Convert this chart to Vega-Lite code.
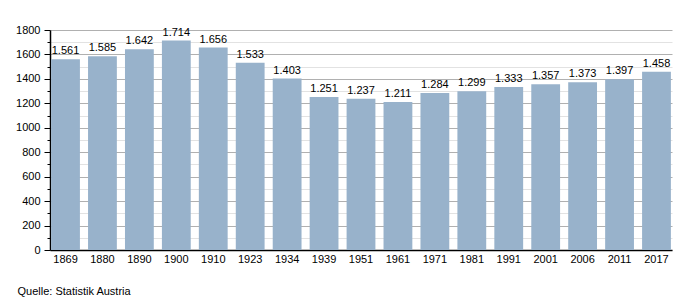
{
  "$schema": "https://vega.github.io/schema/vega-lite/v6.json",
  "autosize": "none",
  "width": 622,
  "height": 220,
  "padding": {"left": 50, "top": 30, "right": 28, "bottom": 50},
  "background": "white",
  "config": {
    "font": "Liberation Sans",
    "view": {"stroke": null},
    "locale": {"number": {"decimal": ",", "thousands": ".", "grouping": [3], "currency": ["", " €"]}}
  },
  "title": {
    "text": "Quelle: Statistik Austria",
    "orient": "bottom",
    "anchor": "start",
    "frame": "bounds",
    "dx": 2,
    "offset": 22,
    "fontSize": 11,
    "fontWeight": "normal",
    "color": "#000"
  },
  "data": {
    "values": [
      {"year": "1869", "value": 1561},
      {"year": "1880", "value": 1585},
      {"year": "1890", "value": 1642},
      {"year": "1900", "value": 1714},
      {"year": "1910", "value": 1656},
      {"year": "1923", "value": 1533},
      {"year": "1934", "value": 1403},
      {"year": "1939", "value": 1251},
      {"year": "1951", "value": 1237},
      {"year": "1961", "value": 1211},
      {"year": "1971", "value": 1284},
      {"year": "1981", "value": 1299},
      {"year": "1991", "value": 1333},
      {"year": "2001", "value": 1357},
      {"year": "2006", "value": 1373},
      {"year": "2011", "value": 1397},
      {"year": "2017", "value": 1458}
    ]
  },
  "encoding": {
    "x": {
      "field": "year",
      "type": "ordinal",
      "sort": null,
      "scale": {"paddingInner": 0.22, "paddingOuter": 0.03},
      "axis": {
        "title": null,
        "labelAngle": 0,
        "labelFontSize": 11,
        "labelColor": "#000",
        "labelPadding": 3,
        "ticks": false,
        "domainColor": "#000",
        "domainWidth": 1.5
      }
    },
    "y": {
      "field": "value",
      "type": "quantitative",
      "scale": {"domain": [0, 1800], "nice": false},
      "axis": {
        "title": null,
        "values": [0,100,200,300,400,500,600,700,800,900,1000,1100,1200,1300,1400,1500,1600,1700,1800],
        "format": "d",
        "labelExpr": "datum.value % 200 === 0 ? datum.label : ''",
        "labelOverlap": false,
        "labelFontSize": 11,
        "labelColor": "#000",
        "labelPadding": 4,
        "domainColor": "#000",
        "domainWidth": 1.5,
        "tickColor": "#000",
        "tickSize": {"condition": {"test": "datum.value % 200 === 0", "value": 6}, "value": 3},
        "gridColor": {"condition": {"test": "datum.value % 200 === 0", "value": "#b0b0b0"}, "value": "#e2e2e2"},
        "gridWidth": 1
      }
    }
  },
  "layer": [
    {"mark": {"type": "bar", "color": "#98b2cb"}},
    {
      "mark": {"type": "text", "baseline": "bottom", "dy": -3, "fontSize": 11, "color": "#000"},
      "encoding": {"text": {"field": "value", "type": "quantitative", "format": ",d"}}
    }
  ]
}
